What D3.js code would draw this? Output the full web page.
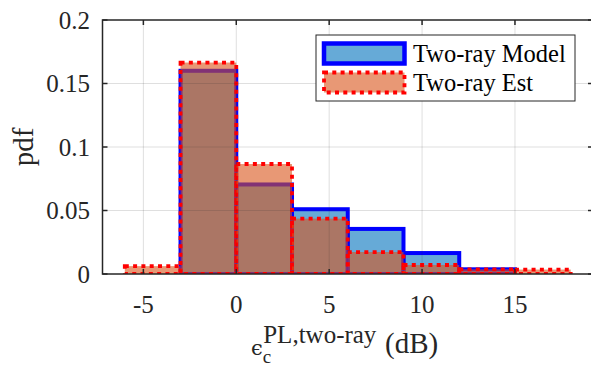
<!DOCTYPE html>
<html><head><meta charset="utf-8">
<script src="https://cdn.jsdelivr.net/npm/d3@7"></script>
<style>body{margin:0;background:#fff}svg{display:block}</style>
</head><body><svg id="c" width="591" height="368"></svg>
<script>
// Data
const modelEdges = [-3, 0, 3, 6, 9, 12, 15];
const modelPdf   = [0.160, 0.0705, 0.051, 0.0355, 0.0165, 0.0037];
const estEdges   = [-6, -3, 0, 3, 6, 9, 12, 15, 18];
const estPdf     = [0.0062, 0.1665, 0.0866, 0.0436, 0.0173, 0.0071, 0.0037, 0.0035];
const xTicks = [-5, 0, 5, 10, 15];
const yTicks = [0, 0.05, 0.1, 0.15, 0.2];
const yTickLabels = ["0", "0.05", "0.1", "0.15", "0.2"];
const legendLabels = ["Two-ray Model", "Two-ray Est"];

const FONT = "Liberation Serif";
const svg = d3.select("#c");
const L = 102.5, R = 593, T = 20, B = 274;
const x = d3.scaleLinear().domain([-7.2, 19.2]).range([L, R]);
const y = d3.scaleLinear().domain([0, 0.2]).range([B, T]);

svg.append("clipPath").attr("id","pc").append("rect")
  .attr("x", L).attr("y", T).attr("width", R-L).attr("height", B-T);

const plot = svg.append("g").attr("clip-path","url(#pc)");

function bins(edges, vals){ return vals.map((v,i)=>({x0:edges[i], x1:edges[i+1], v})); }

// Model histogram
plot.append("g").selectAll("rect").data(bins(modelEdges, modelPdf)).join("rect")
  .attr("x", d=>x(d.x0)).attr("width", d=>x(d.x1)-x(d.x0))
  .attr("y", d=>y(d.v)).attr("height", d=>y(0)-y(d.v))
  .attr("fill", "rgb(0,114,189)").attr("fill-opacity", 0.6)
  .attr("stroke", "#0000ff").attr("stroke-width", 4);

// Est histogram
plot.append("g").selectAll("rect").data(bins(estEdges, estPdf)).join("rect")
  .attr("x", d=>x(d.x0)).attr("width", d=>x(d.x1)-x(d.x0))
  .attr("y", d=>y(d.v)).attr("height", d=>y(0)-y(d.v))
  .attr("fill", "rgb(217,83,25)").attr("fill-opacity", 0.6)
  .attr("stroke", "#ff0000").attr("stroke-width", 3.8)
  .attr("stroke-dasharray", "4 4.3");

// Grid on top
const grid = svg.append("g").attr("stroke", "#262626").attr("stroke-opacity", 0.15).attr("stroke-width", 1);
grid.selectAll(".gx").data(xTicks).join("line")
  .attr("x1", d=>x(d)).attr("x2", d=>x(d)).attr("y1", T).attr("y2", B);
grid.selectAll(".gy").data(yTicks.slice(1,-1)).join("line")
  .attr("x1", L).attr("x2", R).attr("y1", d=>y(d)).attr("y2", d=>y(d));

// Axes
const ax = svg.append("g").attr("stroke", "#262626").attr("stroke-width", 1.5).attr("fill","none");
ax.append("rect").attr("x", L).attr("y", T).attr("width", R-L).attr("height", B-T);
const tl = 5;
xTicks.forEach(t=>{
  ax.append("line").attr("x1", x(t)).attr("x2", x(t)).attr("y1", B).attr("y2", B-tl);
  ax.append("line").attr("x1", x(t)).attr("x2", x(t)).attr("y1", T).attr("y2", T+tl);
});
yTicks.forEach(t=>{
  ax.append("line").attr("x1", L).attr("x2", L+tl).attr("y1", y(t)).attr("y2", y(t));
  ax.append("line").attr("x1", R).attr("x2", R-tl).attr("y1", y(t)).attr("y2", y(t));
});

// Tick labels
svg.append("g").selectAll("text").data(xTicks).join("text")
  .attr("x", d=>x(d)).attr("y", 313).attr("text-anchor","middle")
  .style("font-family", FONT).attr("font-size", 25).attr("fill","#262626").text(d=>d);
svg.append("g").selectAll("text").data(yTicks).join("text")
  .attr("x", 90).attr("y", d=>y(d)+8.5).attr("text-anchor","end")
  .style("font-family", FONT).attr("font-size", 25).attr("fill","#262626").text((d,i)=>yTickLabels[i]);

// Axis labels
svg.append("text").attr("transform","translate(33,147) rotate(-90)")
  .attr("text-anchor","middle").style("font-family", FONT).attr("font-size", 29).attr("fill","#262626").text("pdf");

const xl = svg.append("text").attr("x", 251).attr("y", 355).style("font-family", FONT).attr("font-size", 27).attr("fill","#262626");
xl.append("tspan").text("\u03F5").style("font-family","DejaVu Serif").attr("font-size", 21);
xl.append("tspan").attr("dy", 8).attr("font-size", 19).text("c");
xl.append("tspan").attr("dy", -20).attr("dx", -8).attr("font-size", 25).text("PL,two-ray");
svg.append("text").attr("x", 385).attr("y", 353).style("font-family", FONT).attr("font-size", 29).attr("fill","#262626").text("(dB)");

// Legend
const lg = svg.append("g");
lg.append("rect").attr("x", 316).attr("y", 35).attr("width", 259).attr("height", 66)
  .attr("fill","#fff").attr("stroke","#262626").attr("stroke-width", 1);
lg.append("rect").attr("x", 324).attr("y", 43.5).attr("width", 80.5).attr("height", 20)
  .attr("fill","rgb(0,114,189)").attr("fill-opacity",0.6).attr("stroke","#0000ff").attr("stroke-width",4.5);
lg.append("rect").attr("x", 324).attr("y", 72.5).attr("width", 80.5).attr("height", 20)
  .attr("fill","rgb(217,83,25)").attr("fill-opacity",0.6).attr("stroke","#ff0000").attr("stroke-width",3.8)
  .attr("stroke-dasharray","4 4.3");
lg.selectAll("text").data(legendLabels).join("text")
  .attr("x", 413).attr("y", (d,i)=>61.5+i*29).style("font-family", FONT).attr("font-size", 24.5).attr("fill","#000").text(d=>d);
</script></body></html>
